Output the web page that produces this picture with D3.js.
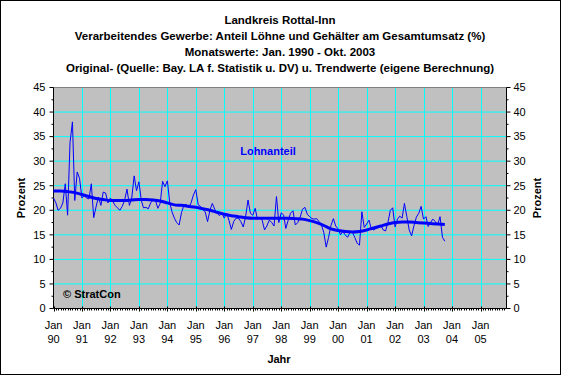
<!DOCTYPE html>
<html>
<head>
<meta charset="utf-8">
<script src="https://cdn.jsdelivr.net/npm/d3@7"></script>
<style>
  body { margin: 0; background: #fff; }
  svg { display: block; font-family: Arial, "Liberation Sans", sans-serif; }
</style>
</head>
<body>
<svg id="chart" width="561" height="375"></svg>
<script>
// Titel
const titleLines = [
  "Landkreis Rottal-Inn",
  "Verarbeitendes Gewerbe: Anteil Löhne und Gehälter am Gesamtumsatz (%)",
  "Monatswerte: Jan. 1990 - Okt. 2003",
  "Original- (Quelle: Bay. LA f. Statistik u. DV) u. Trendwerte (eigene Berechnung)"
];
const seriesLabel = "Lohnanteil";
const copyright = "© StratCon";
const xTitle = "Jahr";
const yTitle = "Prozent";

// Achsen
const yearTicks = [1990, 1991, 1992, 1993, 1994, 1995, 1996, 1997, 1998, 1999, 2000, 2001, 2002, 2003, 2004, 2005];
const monthLabel = "Jan";
const yTicks = [0, 5, 10, 15, 20, 25, 30, 35, 40, 45];
const yMinorTicks = [2.5, 7.5, 12.5, 17.5, 22.5, 27.5, 32.5, 37.5, 42.5];

// Monatswerte Jan 1990 - Okt 2003 (Prozent)
const startYear = 1990;
const monthly = [
  22.5, 21.5, 20.0, 20.4, 21.5, 25.4, 19.0, 33.8, 38.0, 22.0, 27.8, 26.5, // 1990
  22.5, 23.0, 22.5, 22.3, 25.4, 18.5, 20.7, 22.7, 21.0, 23.7, 23.5, 21.5, // 1991
  22.5, 21.8, 21.0, 20.5, 20.0, 20.8, 22.0, 24.3, 21.0, 22.5, 27.0, 24.0, // 1992
  25.8, 22.0, 20.5, 20.6, 20.3, 21.5, 22.1, 22.0, 20.4, 21.4, 25.9, 24.8, // 1993
  26.0, 21.5, 19.7, 18.4, 17.5, 17.0, 19.5, 21.0, 21.2, 20.5, 21.5, 23.1, // 1994
  24.2, 21.1, 20.8, 20.1, 19.7, 17.7, 20.0, 21.4, 20.2, 19.4, 18.9, 19.5, // 1995
  18.4, 19.4, 18.0, 16.1, 17.7, 18.4, 18.4, 17.7, 16.6, 18.7, 22.1, 19.4, // 1996
  19.0, 20.4, 18.2, 18.5, 18.0, 16.0, 16.8, 18.0, 17.5, 16.8, 22.8, 17.5, // 1997
  19.5, 19.0, 16.3, 18.0, 19.4, 19.9, 17.0, 17.5, 18.6, 20.2, 20.6, 19.2, // 1998
  18.7, 18.3, 18.2, 18.3, 17.7, 17.0, 15.5, 12.5, 14.5, 16.9, 18.3, 16.8, // 1999
  16.2, 15.0, 15.7, 15.0, 14.5, 15.5, 15.6, 14.5, 13.3, 12.9, 19.7, 16.5, // 2000
  17.2, 18.0, 16.2, 16.0, 16.3, 16.5, 17.0, 16.0, 15.8, 17.5, 20.0, 20.5, // 2001
  16.6, 18.2, 18.8, 18.4, 21.4, 18.7, 16.0, 14.8, 16.9, 18.6, 19.4, 20.8, // 2002
  18.2, 18.7, 16.7, 17.5, 18.2, 17.7, 17.0, 18.7, 14.5, 13.7              // 2003
];

// Trendwerte, vierteljaehrlich (Jan, Apr, Jul, Okt)
const trendStep = 3;
const trend = [
  23.9, 23.9, 23.8, 23.6, 23.2, 22.8, 22.4, 22.2,
  22.0, 22.0, 22.0, 22.1, 22.2, 22.2, 22.1, 21.9,
  21.5, 21.1, 21.0, 20.8, 20.6, 20.3, 20.0, 19.6,
  19.2, 18.9, 18.7, 18.5, 18.4, 18.4, 18.4, 18.4,
  18.4, 18.4, 18.3, 18.2, 17.9, 17.5, 16.9, 16.2,
  15.9, 15.7, 15.6, 15.7, 16.0, 16.4, 16.8, 17.2,
  17.5, 17.6, 17.6, 17.5, 17.4, 17.3, 17.2, 17.1
];

const svg = d3.select("#chart");
const W = 561, H = 375;
const plot = { left: 53.5, right: 506.5, top: 87.5, bottom: 308.5 };

// Rahmen
svg.append("rect")
  .attr("x", 0.5).attr("y", 0.5)
  .attr("width", W - 1).attr("height", H - 1)
  .attr("fill", "#fff").attr("stroke", "#000");

const xScale = d3.scaleUtc()
  .domain([Date.UTC(1990, 0, 1), Date.UTC(2005, 0, 1)])
  .range([plot.left, 480.5]);
const yScale = d3.scaleLinear().domain([0, 45]).range([plot.bottom, plot.top]);
const cx = (plot.left + plot.right) / 2;

// Plotflaeche
svg.append("rect")
  .attr("x", plot.left).attr("y", plot.top)
  .attr("width", plot.right - plot.left).attr("height", plot.bottom - plot.top)
  .attr("fill", "#c0c0c0");

// Gitter
const grid = svg.append("g").attr("stroke", "#00ffff").attr("stroke-width", 1);
yTicks.filter(d => d > 0 && d < 45).forEach(d => {
  grid.append("line")
    .attr("x1", plot.left).attr("x2", plot.right)
    .attr("y1", yScale(d)).attr("y2", yScale(d));
});
yearTicks.slice(1).forEach(y => {
  const x = Math.round(xScale(Date.UTC(y, 0, 1))) + 0.5;
  grid.append("line")
    .attr("x1", x).attr("x2", x)
    .attr("y1", plot.top).attr("y2", plot.bottom);
});
svg.append("line")
  .attr("x1", plot.left).attr("x2", plot.right)
  .attr("y1", plot.top).attr("y2", plot.top)
  .attr("stroke", "#808080");

// Achsen
const axes = svg.append("g").attr("stroke", "#000").attr("stroke-width", 1);
axes.append("line").attr("x1", plot.left).attr("x2", plot.left).attr("y1", plot.top).attr("y2", plot.bottom);
axes.append("line").attr("x1", plot.right).attr("x2", plot.right).attr("y1", plot.top).attr("y2", plot.bottom);
axes.append("line").attr("x1", plot.left).attr("x2", plot.right).attr("y1", plot.bottom).attr("y2", plot.bottom);

yTicks.forEach(d => {
  const y = yScale(d);
  axes.append("line").attr("x1", plot.left - 4).attr("x2", plot.left).attr("y1", y).attr("y2", y);
  axes.append("line").attr("x1", plot.right).attr("x2", plot.right + 4).attr("y1", y).attr("y2", y);
});
yMinorTicks.forEach(d => {
  const y = yScale(d);
  axes.append("line").attr("x1", plot.left - 2).attr("x2", plot.left).attr("y1", y).attr("y2", y);
  axes.append("line").attr("x1", plot.right).attr("x2", plot.right + 2).attr("y1", y).attr("y2", y);
});

// Monatsstriche
const months = d3.utcMonth.range(Date.UTC(1990, 0, 1), xScale.invert(plot.right));
months.forEach(m => {
  const x = Math.round(xScale(m)) + 0.5;
  axes.append("line").attr("x1", x).attr("x2", x).attr("y1", plot.bottom).attr("y2", plot.bottom + 2);
});
yearTicks.forEach(y => {
  const x = Math.round(xScale(Date.UTC(y, 0, 1))) + 0.5;
  axes.append("line").attr("x1", x).attr("x2", x).attr("y1", plot.bottom - 2).attr("y2", plot.bottom + 3);
});

// Beschriftung der Achsen
const tickFont = g => g.attr("font-size", 11).attr("fill", "#000");
svg.append("g").call(tickFont)
  .selectAll("text").data(yTicks).join("text")
  .attr("x", plot.left - 8).attr("y", d => yScale(d)).attr("dy", "0.35em")
  .attr("text-anchor", "end").text(d => d);
svg.append("g").call(tickFont)
  .selectAll("text").data(yTicks).join("text")
  .attr("x", plot.right + 7).attr("y", d => yScale(d)).attr("dy", "0.35em")
  .attr("text-anchor", "start").text(d => d);

const xLab = svg.append("g").call(tickFont).attr("text-anchor", "middle");
yearTicks.forEach(y => {
  const x = xScale(Date.UTC(y, 0, 1));
  xLab.append("text").attr("x", x).attr("y", 329).text(monthLabel);
  xLab.append("text").attr("x", x).attr("y", 343).text(String(y).slice(2));
});

svg.append("text")
  .attr("x", cx - 1).attr("y", 363)
  .attr("text-anchor", "middle").attr("font-size", 11).attr("font-weight", "bold")
  .text(xTitle);
[25, 541].forEach(bx => {
  svg.append("text")
    .attr("transform", `translate(${bx},${(plot.top + plot.bottom) / 2}) rotate(-90)`)
    .attr("text-anchor", "middle").attr("font-size", 11).attr("font-weight", "bold")
    .text(yTitle);
});

// Titel
svg.append("g")
  .attr("text-anchor", "middle").attr("font-size", 11.5).attr("font-weight", "bold")
  .selectAll("text").data(titleLines).join("text")
  .attr("x", cx).attr("y", (d, i) => 24 + i * 16)
  .text(d => d);

// Linien
const line = d3.line()
  .x((d, i) => xScale(Date.UTC(startYear, i, 1)))
  .y(d => yScale(d));
svg.append("path")
  .datum(monthly)
  .attr("fill", "none").attr("stroke", "#0000ff").attr("stroke-width", 1)
  .attr("d", line);

const trendLine = d3.line()
  .x((d, i) => xScale(Date.UTC(startYear, i * trendStep, 1)))
  .y(d => yScale(d))
  .curve(d3.curveMonotoneX);
svg.append("path")
  .datum(trend)
  .attr("fill", "none").attr("stroke", "#0000ff").attr("stroke-width", 3)
  .attr("d", trendLine);

svg.append("text")
  .attr("x", 268).attr("y", 155)
  .attr("text-anchor", "middle").attr("font-size", 11).attr("font-weight", "bold")
  .attr("fill", "#0000ff")
  .text(seriesLabel);

svg.append("text")
  .attr("x", 63).attr("y", 298)
  .attr("font-size", 11).attr("font-weight", "bold").attr("fill", "#000")
  .text(copyright);
</script>
</body>
</html>
